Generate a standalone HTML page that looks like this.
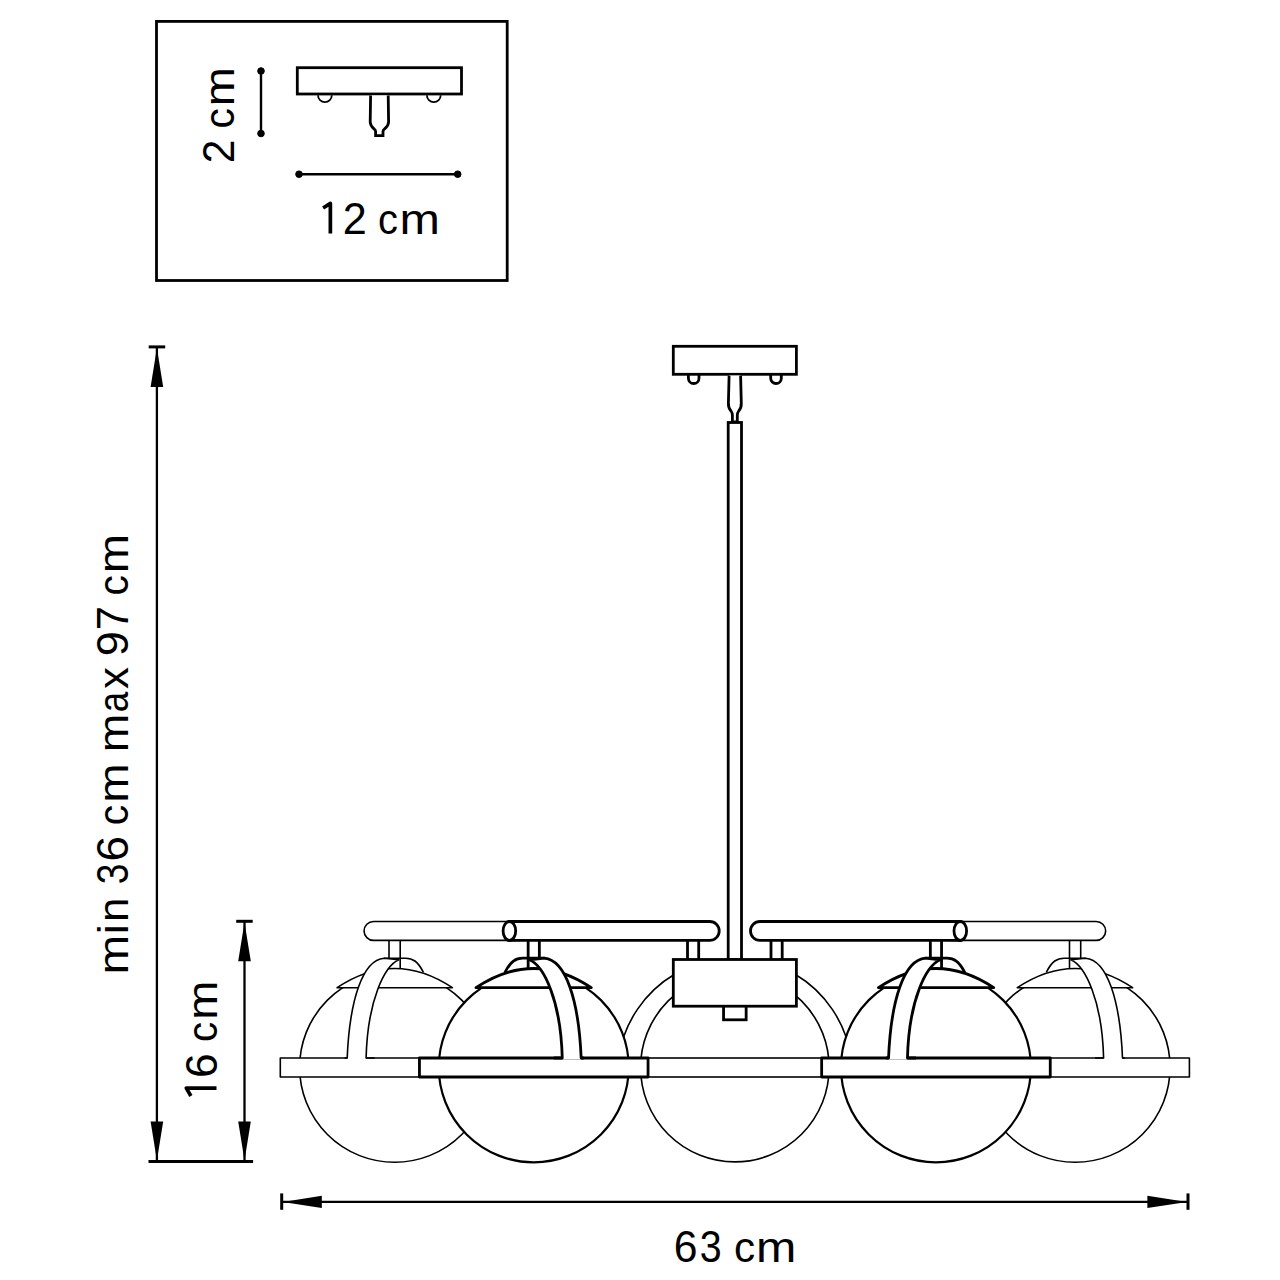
<!DOCTYPE html>
<html><head><meta charset="utf-8">
<style>
html,body{margin:0;padding:0;background:#fff;overflow:hidden;}
svg{display:block;}
text{font-family:"Liberation Sans",sans-serif;fill:#000;}
</style></head><body>
<svg width="1280" height="1280" viewBox="0 0 1280 1280">
<rect width="1280" height="1280" fill="#fff"/>
<g fill="none" stroke="#000" stroke-width="2.8">
<rect x="156.5" y="21.4" width="350.7" height="259.1"/>
<rect x="297.3" y="67.7" width="164.2" height="26.3"/>
<path d="M 318,95.3 A 6.9 6.9 0 0 0 331.8,95.3" stroke-width="1.8"/>
<path d="M 426.9,95.3 A 6.9 6.9 0 0 0 440.7,95.3" stroke-width="1.8"/>
<path fill="#fff" d="M 370.6,95.5 L 370.2,122 Q 370.4,126 374,128.8 Q 375.6,130 375.6,131.5 L 375.6,135.6 L 383,135.6 L 383,131.5 Q 383,130 384.6,128.8 Q 388.4,126 388.6,122 L 388.2,95.5"/>
</g>
<g stroke="#000" stroke-width="2.4" fill="#000">
<line x1="261" y1="71" x2="261" y2="133.5"/>
<circle cx="261" cy="71" r="3.3" stroke-width="1"/><circle cx="261" cy="133.5" r="3.3" stroke-width="1"/>
<line x1="299" y1="174.2" x2="457.7" y2="174.2"/>
<circle cx="299" cy="174.2" r="3.3" stroke-width="1"/><circle cx="457.7" cy="174.2" r="3.3" stroke-width="1"/>
</g>
<line x1="156.9" y1="346.9" x2="156.9" y2="1161.6" stroke="#000" stroke-width="2.3"/><path d="M 156.9,347.9 L 150.6,386.9 L 163.20000000000002,386.9 Z" fill="#000"/><path d="M 156.9,1160.6 L 150.6,1121.6 L 163.20000000000002,1121.6 Z" fill="#000"/>
<line x1="244.5" y1="921.3" x2="244.5" y2="1161.6" stroke="#000" stroke-width="2.3"/><path d="M 244.5,922.3 L 238.2,961.3 L 250.8,961.3 Z" fill="#000"/><path d="M 244.5,1160.6 L 238.2,1121.6 L 250.8,1121.6 Z" fill="#000"/>
<g stroke="#000" stroke-width="3" fill="none" stroke-linecap="butt">
<line x1="148.7" y1="346.9" x2="165.2" y2="346.9"/>
<line x1="236.2" y1="921.3" x2="252.7" y2="921.3"/>
<line x1="148.5" y1="1161.6" x2="253.1" y2="1161.6"/>
<line x1="281.7" y1="1193.4" x2="281.7" y2="1209.8"/>
<line x1="1188" y1="1193.4" x2="1188" y2="1209.8"/>
</g>
<line x1="281.7" y1="1201.9" x2="1188" y2="1201.9" stroke="#000" stroke-width="2.3"/>
<path d="M 282.7,1201.9 L 321.8,1195.7 L 321.8,1208.1 Z" fill="#000"/>
<path d="M 1187,1201.9 L 1147.4,1195.7 L 1147.4,1208.1 Z" fill="#000"/>
<g font-size="46">
<g transform="translate(0,233.6)"><path fill="none" stroke="#000" stroke-width="3.7" stroke-linejoin="round" d="M 323.10,-25.6 L 330.37,-30.2 L 330.37,0"/></g>
<text transform="translate(342.63,233.6) scale(0.940,0.98)">2</text>
<text transform="translate(378.11,233.6) scale(0.867,0.93)">c</text>
<text transform="translate(399.38,233.6) scale(1.055,0.93)">m</text>
<text transform="translate(673.73,1262.1) scale(0.928,0.98)">6</text>
<text transform="translate(699.80,1262.1) scale(0.857,0.98)">3</text>
<text transform="translate(734.01,1262.1) scale(0.918,0.93)">c</text>
<text transform="translate(755.99,1262.1) scale(1.052,0.93)">m</text>
<text transform="translate(233.9,163.23) rotate(-90) scale(0.921,0.98)">2</text>
<text transform="translate(233.9,128.43) rotate(-90) scale(0.887,0.93)">c</text>
<text transform="translate(233.9,106.22) rotate(-90) scale(1.021,0.93)">m</text>
<g transform="translate(216.5,0) rotate(-90)"><path fill="none" stroke="#000" stroke-width="3.7" stroke-linejoin="round" d="M -1096.00,-25.6 L -1088.17,-30.2 L -1088.17,0"/></g>
<text transform="translate(216.5,1077.95) rotate(-90) scale(0.961,0.98)">6</text>
<text transform="translate(216.5,1041.91) rotate(-90) scale(0.877,0.93)">c</text>
<text transform="translate(216.5,1019.82) rotate(-90) scale(1.021,0.93)">m</text>
<text transform="translate(128.4,974.57) rotate(-90) scale(1.036,0.93)">m</text>
<text transform="translate(128.4,934.30) rotate(-90) scale(1.000,0.93)">i</text>
<text transform="translate(128.4,922.12) rotate(-90) scale(0.957,0.93)">n</text>
<text transform="translate(128.4,884.31) rotate(-90) scale(0.807,0.98)">3</text>
<text transform="translate(128.4,861.53) rotate(-90) scale(0.999,0.98)">6</text>
<text transform="translate(128.4,825.18) rotate(-90) scale(0.885,0.93)">c</text>
<text transform="translate(128.4,802.84) rotate(-90) scale(1.028,0.93)">m</text>
<text transform="translate(128.4,752.18) rotate(-90) scale(1.010,0.93)">m</text>
<text transform="translate(128.4,712.16) rotate(-90) scale(0.800,0.93)">a</text>
<text transform="translate(128.4,688.99) rotate(-90) scale(0.950,0.93)">x</text>
<text transform="translate(128.4,656.32) rotate(-90) scale(0.984,0.98)">9</text>
<text transform="translate(128.4,630.22) rotate(-90) scale(0.942,0.98)">7</text>
<text transform="translate(128.4,595.43) rotate(-90) scale(0.887,0.93)">c</text>
<text transform="translate(128.4,573.23) rotate(-90) scale(1.025,0.93)">m</text>
</g>
<g stroke="#000" stroke-width="2.8" fill="#fff">
<rect x="673.3" y="346.3" width="123.1" height="28"/>
<path fill="none" d="M 688.4,374.3 L 688.4,378.2 A 5.3 5.3 0 0 0 699,378.2 L 699,374.3"/>
<path fill="none" d="M 770.7,374.3 L 770.7,378.2 A 5.3 5.3 0 0 0 781.3,378.2 L 781.3,374.3"/>
<path d="M 729.1,375.6 L 728.4,403 Q 728.2,408 731,411 Q 732.4,412.8 732.4,415.5 L 732.4,422 L 737.3,422 L 737.3,415.5 Q 737.3,412.8 738.7,411 Q 741.5,408 741.3,403 L 740.6,375.6"/>
<rect x="728.2" y="422.5" width="13.3" height="537"/>
</g>
<path stroke="#000" stroke-width="1.6" fill="#fff" d="M 520,921.5 L 373.5,921.5 A 9.45 9.45 0 0 0 373.5,940.4 L 520,940.4"/>
<g transform="translate(1469.7,0) scale(-1,1)"><path stroke="#000" stroke-width="1.6" fill="#fff" d="M 520,921.5 L 373.5,921.5 A 9.45 9.45 0 0 0 373.5,940.4 L 520,940.4"/></g>
<g transform="translate(394.6,0) scale(-1,1)" stroke="#000" fill="#fff" stroke-linejoin="round">
<circle cx="0" cy="1067.3" r="95" stroke-width="1.6"/>
<path stroke-width="1.6" d="M -57.8,987.7 Q 0,949.3 57.5,987.7 Z"/>
<path stroke-width="1.6" fill="none" d="M -28.8,972.3 C -23,961 -18,958.2 -11,958.2 L 10.5,958.2"/>
<path stroke-width="1.6" fill="none" d="M -5.6,940.4 L -5.6,968.6 M 5.6,940.4 L 5.6,958.2"/>
<rect x="-114.3" y="1058" width="228.6" height="19" stroke-width="1.6"/>
<path stroke="none" d="M 10.5,958.2 C 32,960 45,1000 47.4,1058 L 47.4,1059.6 L 28.5,1059.6 L 28.5,1058 C 27,1000 10,966 -4.2,959.8 Z"/>
<path stroke-width="1.6" fill="none" d="M 50,1058 L 47.4,1058 C 45,1000 32,960 10.5,958.2 L -4.2,959.8 C 10,966 27,1000 28.5,1058 L 20,1058"/>
</g>
<g transform="translate(1075.1,0)" stroke="#000" fill="#fff" stroke-linejoin="round">
<circle cx="0" cy="1067.3" r="95" stroke-width="1.6"/>
<path stroke-width="1.6" d="M -57.8,987.7 Q 0,949.3 57.5,987.7 Z"/>
<path stroke-width="1.6" fill="none" d="M -28.8,972.3 C -23,961 -18,958.2 -11,958.2 L 10.5,958.2"/>
<path stroke-width="1.6" fill="none" d="M -5.6,940.4 L -5.6,968.6 M 5.6,940.4 L 5.6,958.2"/>
<rect x="-114.3" y="1058" width="228.6" height="19" stroke-width="1.6"/>
<path stroke="none" d="M 10.5,958.2 C 32,960 45,1000 47.4,1058 L 47.4,1059.6 L 28.5,1059.6 L 28.5,1058 C 27,1000 10,966 -4.2,959.8 Z"/>
<path stroke-width="1.6" fill="none" d="M 50,1058 L 47.4,1058 C 45,1000 32,960 10.5,958.2 L -4.2,959.8 C 10,966 27,1000 28.5,1058 L 20,1058"/>
</g>
<g stroke="#000" stroke-width="1.6" fill="#fff">
<path fill="none" d="M 618.6,1058 A 116.8 116.8 0 0 1 675,974 M 794.7,974 A 116.8 116.8 0 0 1 851.1,1058"/>
<circle cx="734.85" cy="1067.6" r="94.3"/>
<rect x="620.55" y="1058" width="228.6" height="19"/>
</g>
<g transform="translate(533.75,0)" stroke="#000" fill="#fff" stroke-linejoin="round">
<circle cx="0" cy="1067.3" r="95" stroke-width="2.2"/>
<path stroke-width="2.8" d="M -57.8,987.7 Q 0,949.3 57.5,987.7 Z"/>
<path stroke-width="2.8" fill="none" d="M -28.8,972.3 C -23,961 -18,958.2 -11,958.2 L 10.5,958.2"/>
<path stroke-width="2.8" fill="none" d="M -5.6,940.4 L -5.6,968.6 M 5.6,940.4 L 5.6,958.2"/>
<rect x="-114.3" y="1058" width="228.6" height="19" stroke-width="2.8"/>
<path stroke="none" d="M 10.5,958.2 C 32,960 45,1000 47.4,1058 L 47.4,1059.6 L 28.5,1059.6 L 28.5,1058 C 27,1000 10,966 -4.2,959.8 Z"/>
<path stroke-width="2.8" fill="none" d="M 50,1058 L 47.4,1058 C 45,1000 32,960 10.5,958.2 L -4.2,959.8 C 10,966 27,1000 28.5,1058 L 20,1058"/>
</g>
<g transform="translate(935.95,0) scale(-1,1)" stroke="#000" fill="#fff" stroke-linejoin="round">
<circle cx="0" cy="1067.3" r="95" stroke-width="2.2"/>
<path stroke-width="2.8" d="M -57.8,987.7 Q 0,949.3 57.5,987.7 Z"/>
<path stroke-width="2.8" fill="none" d="M -28.8,972.3 C -23,961 -18,958.2 -11,958.2 L 10.5,958.2"/>
<path stroke-width="2.8" fill="none" d="M -5.6,940.4 L -5.6,968.6 M 5.6,940.4 L 5.6,958.2"/>
<rect x="-114.3" y="1058" width="228.6" height="19" stroke-width="2.8"/>
<path stroke="none" d="M 10.5,958.2 C 32,960 45,1000 47.4,1058 L 47.4,1059.6 L 28.5,1059.6 L 28.5,1058 C 27,1000 10,966 -4.2,959.8 Z"/>
<path stroke-width="2.8" fill="none" d="M 50,1058 L 47.4,1058 C 45,1000 32,960 10.5,958.2 L -4.2,959.8 C 10,966 27,1000 28.5,1058 L 20,1058"/>
</g>
<g stroke="#000" stroke-width="2.8" fill="#fff">
<path d="M 509.4,921.5 L 709.75,921.5 A 9.45 9.45 0 0 1 709.75,940.4 L 509.4,940.4 Z" />
<ellipse cx="509.4" cy="930.95" rx="6.3" ry="9.45"/>
<path fill="none" d="M 687.5,940.4 L 687.5,959.5 M 698.7,940.4 L 698.7,959.5"/>
</g>
<g transform="translate(1469.7,0) scale(-1,1)"><g stroke="#000" stroke-width="2.8" fill="#fff">
<path d="M 509.4,921.5 L 709.75,921.5 A 9.45 9.45 0 0 1 709.75,940.4 L 509.4,940.4 Z" />
<ellipse cx="509.4" cy="930.95" rx="6.3" ry="9.45"/>
<path fill="none" d="M 687.5,940.4 L 687.5,959.5 M 698.7,940.4 L 698.7,959.5"/>
</g></g>
<g stroke="#000" stroke-width="2.8" fill="#fff">
<rect x="723.55" y="1000" width="22.6" height="19.8"/>
<rect x="673.3" y="959.5" width="123.1" height="46.7"/>
</g>
</svg>
</body></html>
